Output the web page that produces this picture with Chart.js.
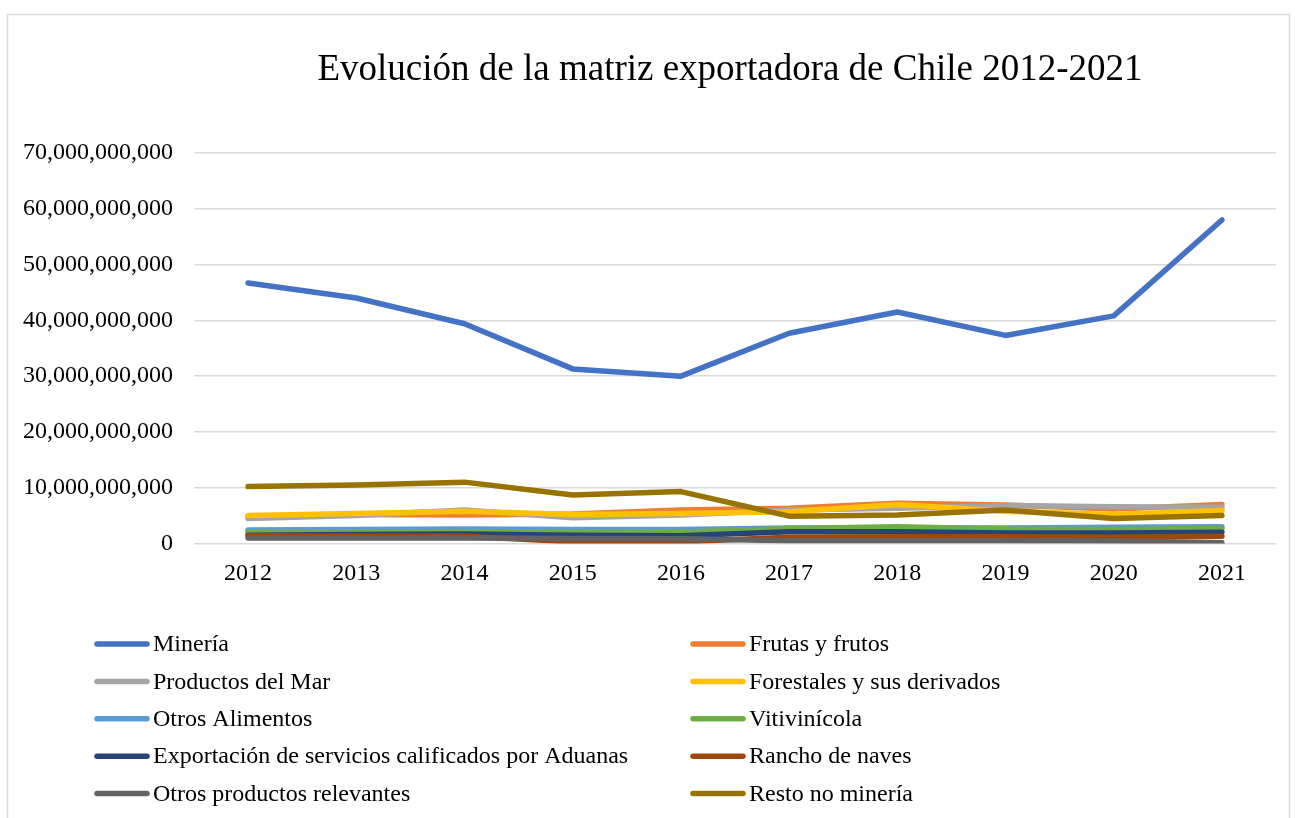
<!DOCTYPE html>
<html>
<head>
<meta charset="utf-8">
<script src="https://cdn.jsdelivr.net/npm/chart.js@4.4.1/dist/chart.umd.min.js"></script>
<style>
  html, body { margin: 0; padding: 0; background: #fff; }
  #wrap { position: relative; width: 1295px; height: 818px; }
</style>
</head>
<body>
<div id="wrap"><canvas id="c" width="1295" height="818"></canvas></div>
<script>
const chartTitle = "Evolución de la matriz exportadora de Chile 2012-2021";
const years = ["2012","2013","2014","2015","2016","2017","2018","2019","2020","2021"];
const yTicks = [0, 10e9, 20e9, 30e9, 40e9, 50e9, 60e9, 70e9];

const mineria            = [46.7e9, 44.0e9, 39.4e9, 31.3e9, 30.0e9, 37.7e9, 41.5e9, 37.3e9, 40.8e9, 58.0e9];
const frutas             = [4.9e9, 5.2e9, 5.1e9, 5.3e9, 6.0e9, 6.3e9, 7.2e9, 6.9e9, 6.2e9, 7.0e9];
const productosMar       = [4.5e9, 5.0e9, 6.0e9, 4.6e9, 5.1e9, 6.0e9, 6.3e9, 6.8e9, 6.6e9, 6.5e9];
const forestales         = [5.0e9, 5.4e9, 5.8e9, 5.2e9, 5.4e9, 5.7e9, 7.0e9, 5.8e9, 5.2e9, 5.9e9];
const otrosAlimentos     = [2.4e9, 2.5e9, 2.6e9, 2.5e9, 2.5e9, 2.8e9, 2.8e9, 2.8e9, 2.9e9, 3.0e9];
const vitivinicola       = [2.0e9, 2.0e9, 2.1e9, 2.0e9, 2.0e9, 2.7e9, 3.0e9, 2.6e9, 2.5e9, 2.7e9];
const exportServicios    = [1.5e9, 1.6e9, 1.7e9, 1.5e9, 1.4e9, 2.1e9, 2.1e9, 1.9e9, 1.9e9, 2.0e9];
const ranchoNaves        = [1.4e9, 1.35e9, 1.3e9, 0.3e9, 0.3e9, 1.1e9, 1.2e9, 1.2e9, 1.1e9, 1.3e9];
const otrosRelevantes    = [1.0e9, 1.0e9, 1.0e9, 0.9e9, 0.85e9, 0.5e9, 0.5e9, 0.5e9, 0.45e9, 0.12e9];
const restoNoMineria     = [10.2e9, 10.5e9, 11.0e9, 8.7e9, 9.3e9, 4.9e9, 5.1e9, 6.0e9, 4.5e9, 5.0e9];

const seriesNames = ["Minería","Frutas y frutos","Productos del Mar","Forestales y sus derivados","Otros Alimentos","Vitivinícola","Exportación de servicios calificados por Aduanas","Rancho de naves","Otros productos relevantes","Resto no minería"];
const seriesData = [mineria, frutas, productosMar, forestales, otrosAlimentos, vitivinicola, exportServicios, ranchoNaves, otrosRelevantes, restoNoMineria];
const seriesColors = ["#4472C4","#ED7D31","#A5A5A5","#FFC000","#5B9BD5","#70AD47","#264478","#9E480E","#636363","#997300"];

const FONT = "'Liberation Serif', 'Times New Roman', serif";

const datasets = seriesNames.map((name, i) => ({
  label: name,
  data: seriesData[i],
  borderColor: seriesColors[i],
  backgroundColor: seriesColors[i],
  borderWidth: 5.5,
  pointRadius: 0,
  pointHoverRadius: 0,
  tension: 0,
  fill: false,
  borderCapStyle: 'round',
  borderJoinStyle: 'round',
  order: seriesNames.length - i
}));

const framePlugin = {
  id: 'frame',
  beforeDraw(chart) {
    const ctx = chart.ctx;
    ctx.save();
    ctx.fillStyle = '#fff';
    ctx.fillRect(0, 0, chart.width, chart.height);
    ctx.strokeStyle = '#d9d9d9';
    ctx.lineWidth = 1.5;
    ctx.strokeRect(7.5, 14.5, 1282, 830);
    ctx.restore();
  }
};

const titlePlugin = {
  id: 'customTitle',
  afterDraw(chart) {
    const ctx = chart.ctx;
    ctx.save();
    ctx.fillStyle = '#000';
    ctx.font = "37px " + FONT;
    ctx.textAlign = 'center';
    ctx.textBaseline = 'alphabetic';
    ctx.fillText(chartTitle, 730, 80);
    ctx.restore();
  }
};

const legendPlugin = {
  id: 'customLegend',
  afterDraw(chart) {
    const ctx = chart.ctx;
    ctx.save();
    ctx.font = "24px " + FONT;
    ctx.textBaseline = 'middle';
    ctx.textAlign = 'left';
    const colX = [95, 691];
    const rowY0 = 644, rowDY = 37.4;
    chart.data.datasets.forEach((ds, i) => {
      const col = i % 2, row = Math.floor(i / 2);
      const x = colX[col], y = rowY0 + row * rowDY;
      ctx.strokeStyle = ds.borderColor;
      ctx.lineWidth = 5.5;
      ctx.lineCap = 'round';
      ctx.beginPath();
      ctx.moveTo(x + 2, y);
      ctx.lineTo(x + 52, y);
      ctx.stroke();
      ctx.fillStyle = '#000';
      ctx.fillText(ds.label, x + 58, y + 1);
    });
    ctx.restore();
  }
};

new Chart(document.getElementById('c'), {
  type: 'line',
  data: { labels: years, datasets },
  options: {
    responsive: false,
    animation: false,
    layout: { padding: { left: 0, top: 153, right: 19, bottom: 818 - 543.5 - 50 } },
    plugins: {
      legend: { display: false },
      title: { display: false },
      tooltip: { enabled: false }
    },
    scales: {
      x: {
        offset: true,
        grid: { display: false, drawTicks: false },
        border: { display: false },
        ticks: { color: '#000', font: { family: FONT, size: 24 }, padding: 16, maxRotation: 0 },
        afterFit(scale) { scale.height = 50; }
      },
      y: {
        min: 0,
        max: 70e9,
        afterBuildTicks(scale) { scale.ticks = yTicks.map(v => ({ value: v })); },
        grid: { color: '#d9d9d9', lineWidth: 1.5, drawTicks: false },
        border: { display: false },
        ticks: {
          color: '#000',
          font: { family: FONT, size: 24 },
          padding: 21,
          callback: (v) => Number(v).toLocaleString('en-US')
        },
        afterFit(scale) { scale.width = 194; }
      }
    }
  },
  plugins: [framePlugin, titlePlugin, legendPlugin]
});
</script>
</body>
</html>
